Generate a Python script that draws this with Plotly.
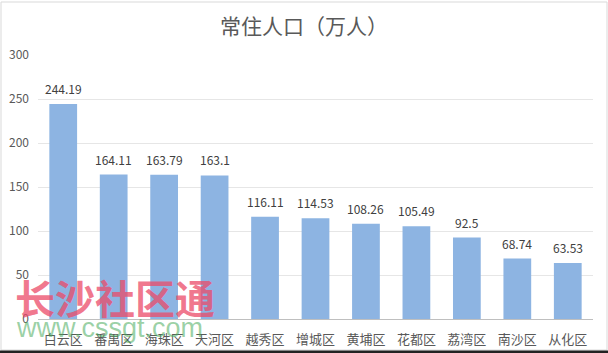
import plotly.graph_objects as go

districts = ["白云区", "番禺区", "海珠区", "天河区", "越秀区", "增城区", "黄埔区", "花都区", "荔湾区", "南沙区", "从化区"]
population = [244.19, 164.11, 163.79, 163.1, 116.11, 114.53, 108.26, 105.49, 92.5, 68.74, 63.53]
value_labels = ["244.19", "164.11", "163.79", "163.1", "116.11", "114.53", "108.26", "105.49", "92.5", "68.74", "63.53"]
y_ticks = [0, 50, 100, 150, 200, 250, 300]

fig = go.Figure()
fig.add_trace(go.Bar(
    x=districts, y=population,
    marker=dict(color="#8db4e2", line=dict(width=0)),
))

annotations = [
    dict(x=d, y=v, text=t, xref="x", yref="y", showarrow=False, yanchor="bottom", yshift=5,
         font=dict(size=12, color="#404040", family="Noto Sans CJK SC"))
    for d, v, t in zip(districts, population, value_labels)
]
annotations += [
    dict(text="<b>长沙社区通</b>", xref="paper", yref="paper", x=-25/555, y=(319-297)/264,
         xanchor="left", yanchor="middle", showarrow=False,
         font=dict(size=40, color="rgba(235,75,105,0.75)", family="Noto Sans CJK SC")),
    dict(text="www.cssgt.com", xref="paper", yref="paper", x=-24/555, y=(319-328)/264,
         xanchor="left", yanchor="middle", showarrow=False,
         font=dict(size=27, color="rgba(70,170,90,0.55)", family="Liberation Sans")),
]

fig.update_layout(
    width=608, height=353,
    margin=dict(l=38, r=15, t=55, b=34),
    paper_bgcolor="white", plot_bgcolor="white",
    showlegend=False, bargap=0.45,
    font=dict(family="Noto Sans CJK SC", color="#595959"),
    title=dict(text="常住人口（万人）", x=0.5, xanchor="center", y=0.925, yanchor="middle",
               font=dict(size=21, color="#595959", family="Noto Sans CJK SC")),
    xaxis=dict(showline=True, linecolor="#bfbfbf", linewidth=1, ticks="", ticklabelstandoff=8,
               automargin=False, tickfont=dict(size=13, color="#595959"), showgrid=False),
    yaxis=dict(range=[0, 300], tickvals=y_ticks, showgrid=True, gridcolor="#e6e6e6",
               zeroline=False, showline=False, ticks="", ticklabelstandoff=8, automargin=False,
               tickfont=dict(size=12, color="#595959")),
    shapes=[
        dict(type="rect", xref="paper", yref="paper", x0=-37/555, x1=1+14/555, y0=-31/264, y1=1+53/264,
             line=dict(color="#d9d9d9", width=1), fillcolor="rgba(0,0,0,0)", layer="below"),
        dict(type="rect", xref="paper", yref="paper", x0=-40/555, x1=1+16/555, y0=-36/264, y1=-31.5/264,
             line=dict(width=0), fillcolor="#222222"),
    ],
    annotations=annotations,
)

fig.write_html("out.html")
